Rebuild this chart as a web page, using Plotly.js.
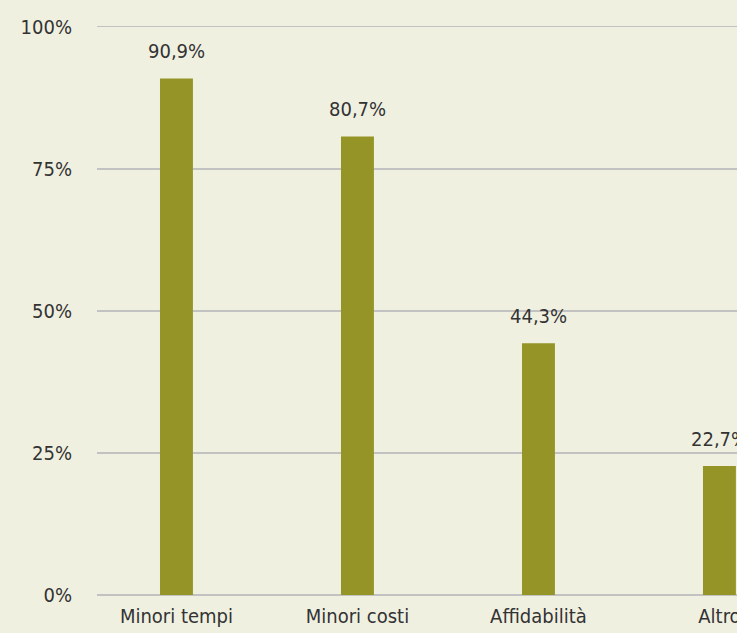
<!DOCTYPE html>
<html>
<head>
<meta charset="utf-8">
<script src="https://cdn.plot.ly/plotly-3.0.1.min.js"></script>
<style>
html,body{margin:0;padding:0;background:#f0f0e1;overflow:hidden;}
#chart{width:737px;height:633px;}
</style>
</head>
<body>
<div id="chart"></div>
<script>
const categories = ["Minori tempi", "Minori costi", "Affidabilità", "Altro"];
const values = [90.9, 80.7, 44.3, 22.7];
const tickValues = [0, 25, 50, 75, 100];
const tickLabels = ["0%", "25%", "50%", "75%", "100%"];

const FONT = '"DejaVu Sans Condensed", "Liberation Sans Narrow", sans-serif';
const FSIZE = 20;
const labels = values.map(v => v.toFixed(1).replace('.', ',') + '%');

const trace = {
  type: 'bar',
  x: categories,
  y: values,
  marker: {color: '#949526'},
  hoverinfo: 'none'
};

const annotations = categories.map((c, i) => ({
  x: c, y: values[i], xref: 'x', yref: 'y',
  text: labels[i], showarrow: false,
  yanchor: 'bottom', yshift: 13,
  font: {family: FONT, size: FSIZE, color: '#333333'}
}));

const layout = {
  width: 737, height: 633,
  margin: {l: 97, r: 0, t: 25, b: 38, pad: 0},
  paper_bgcolor: '#f0f0e1',
  plot_bgcolor: '#f0f0e1',
  bargap: 0.818,
  showlegend: false,
  font: {family: FONT, size: FSIZE, color: '#333333'},
  xaxis: {
    type: 'category',
    range: [-0.439, 3.097],
    showgrid: false, showline: false, zeroline: false,
    ticks: '', ticklabelstandoff: 7,
    tickfont: {family: FONT, size: FSIZE, color: '#333333'},
    fixedrange: true
  },
  yaxis: {
    range: [0, 100.3],
    tickvals: tickValues, ticktext: tickLabels,
    showgrid: true, gridcolor: '#c2c2c2', gridwidth: 1.5,
    zeroline: true, zerolinecolor: '#c2c2c2', zerolinewidth: 1.5,
    showline: false, ticks: '',
    ticklabelstandoff: 24,
    tickfont: {family: FONT, size: FSIZE, color: '#333333'},
    fixedrange: true
  },
  annotations: annotations
};

Plotly.newPlot('chart', [trace], layout, {displayModeBar: false, staticPlot: true});
</script>
</body>
</html>
